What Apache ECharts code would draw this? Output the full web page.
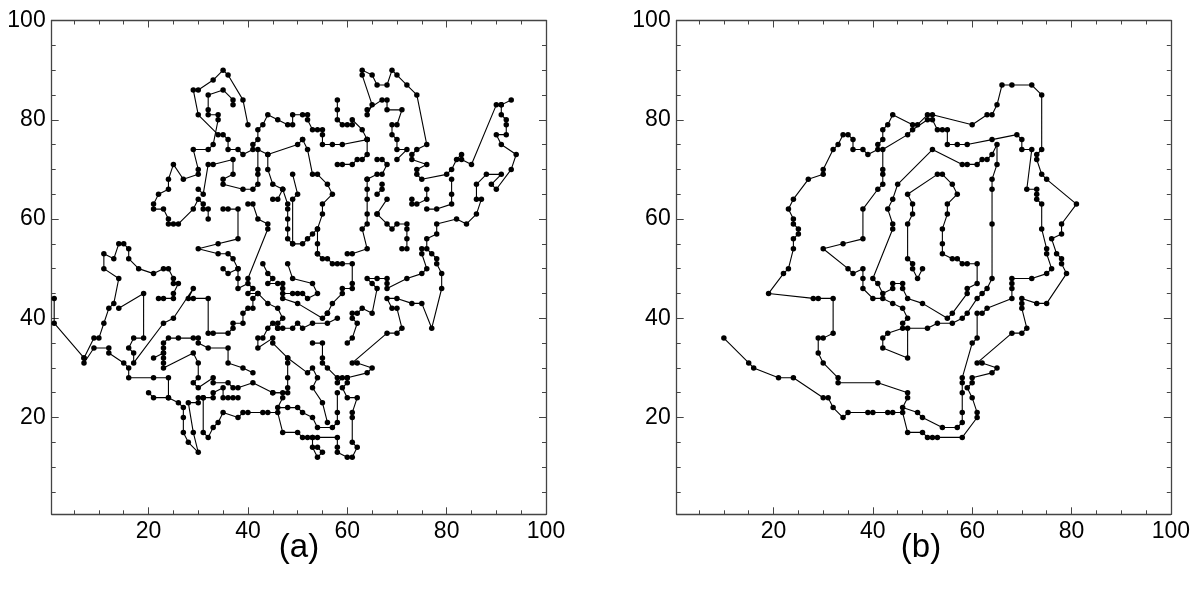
<!DOCTYPE html>
<html>
<head>
<meta charset="utf-8">
<script src="https://cdn.jsdelivr.net/npm/echarts@6/dist/echarts.min.js"></script>
<style>
html,body{margin:0;padding:0;background:#fff;}
#c{width:1193px;height:589px;}
</style>
</head>
<body>
<div id="c"></div>
<script>
// ---- tick values ----
var minorTicks = [5,10,15,20,25,30,35,40,45,50,55,60,65,70,75,80,85,90,95,100];
var majorTicks = [20,40,60,80,100];
var panelLabels = ['(a)', '(b)'];

// ---- panel (a): strands of the tour ----
var a01 = [[1,44],[1,39],[7,32],[7,31],[9,34],[12,34],[12,33],[15,31],[16,30],[16,28],[21,28],[24,28],[24,24],[21,24],[20,25]];
var a02 = [[7,32],[9,36],[10,36],[11,39],[12,42],[13,43],[14,48],[11,50],[11,53],[13,52],[14,55],[15,55],[16,54],[16,52],[18,50],[21,49],[23,50],[24,50],[25,48],[25,47],[26,47],[25,45],[25,44],[23,44],[22,44]];
var a03 = [[14,42],[19,45],[19,36],[17,36],[16,34],[17,33],[17,31],[23,39],[25,40],[29,46],[28,44],[29,44],[32,44],[32,37],[33,37],[36,37],[37,38],[37,39],[39,39],[39,41],[40,42],[41,42],[41,44],[42,45],[44,43],[46,42],[47,40],[46,39],[46,38],[47,38],[49,38],[50,39],[51,38],[53,39],[56,39],[58,40]];
var a04 = [[21,32],[23,33],[23,34],[23,35],[24,36],[26,36],[29,36],[30,36],[30,35],[32,34],[36,34],[36,31],[39,30],[41,29]];
var a05 = [[23,33],[23,32],[23,31],[23,30],[29,33],[30,31],[30,28],[29,27],[30,26],[33,28],[33,27],[36,27],[37,26],[38,26],[41,27],[45,25],[47,25],[47,24],[46,22],[48,22],[50,22],[51,21],[53,20],[54,18],[57,18],[58,19],[58,21],[58,25]];
var a06 = [[24,24],[26,23],[27,22],[27,20],[27,17],[28,15],[30,13],[29,17],[28,23],[30,23],[30,24],[31,24],[33,24],[33,25],[35,26],[35,24],[36,24],[37,24],[38,24]];
var a07 = [[31,24],[31,17],[32,16],[33,18],[34,19],[35,21],[38,20],[39,21],[40,21],[43,21],[44,21],[46,21],[47,17],[50,17],[51,16],[52,16],[53,16],[54,16],[58,16],[58,14],[58,13],[60,12],[61,12],[62,14],[61,15],[61,20],[61,21],[62,24],[60,24],[59,26],[60,27],[60,28],[64,29],[65,30],[62,31],[61,31],[68,37],[70,37],[71,38],[70,42],[69,42],[68,44],[70,44],[73,43],[75,43],[77,38],[79,46],[79,49],[78,51],[78,52],[77,53],[76,54],[76,56],[78,57],[78,59],[82,60],[84,59],[86,61],[87,64],[86,64],[86,67],[88,69],[91,69],[89,67],[90,66],[93,70],[94,73],[91,75],[90,77],[92,77],[92,79],[92,80],[91,81],[91,83],[93,84]];
var a08 = [[53,16],[53,14],[54,12],[55,13],[54,14]];
var a10 = [[48,32],[52,29],[53,30],[54,28],[53,26],[55,23],[56,19]];
var a11 = [[42,36],[42,34],[45,36],[45,35],[48,32],[48,31],[48,28],[48,26],[48,25],[45,25]];
var a12 = [[43,36],[44,38],[45,39],[46,38]];
var a13 = [[35,50],[36,49],[38,50],[38,48],[38,46],[40,47],[41,46],[40,45],[42,45]];
var a14 = [[43,51],[44,49],[45,48],[44,47],[46,47],[47,47],[47,46],[47,45],[49,45],[50,45],[51,45],[52,44],[54,45],[53,47],[49,48],[48,51]];
var a15 = [[53,35],[55,35],[55,32],[55,31],[56,30],[58,28],[58,27],[59,28],[60,28]];
var a16 = [[60,35],[61,36],[62,39],[61,40],[61,41],[62,41],[63,42],[65,41],[66,46],[65,47],[64,48],[66,48],[68,48],[68,47],[68,46],[72,48],[75,49],[76,50],[75,53],[75,54]];
var a17 = [[56,41],[57,43],[59,45],[59,46],[61,46],[61,47],[61,51],[59,51],[58,51],[57,51],[56,52],[55,52],[54,53]];
var a18 = [[47,44],[50,43],[55,40],[56,41]];
var a19 = [[40,79],[39,84],[36,89],[35,90],[33,88],[30,86],[29,86],[30,81],[34,77],[35,77],[36,76],[36,74],[38,74],[39,73],[41,74],[41,75],[42,76],[42,78],[43,79],[44,81],[46,80],[48,79],[49,79],[49,81],[51,81],[52,81],[52,80],[53,78],[54,78],[55,78],[55,77],[55,75],[57,75],[59,75],[64,76]];
var a20 = [[37,83],[37,84],[35,86],[32,85],[32,82],[32,81],[34,81],[34,80],[33,75],[32,74],[29,74],[30,70],[30,69],[27,68],[25,71],[24,68],[24,66],[22,65],[21,63],[21,62],[23,62],[24,60],[24,59],[25,59],[26,59],[29,62],[30,64],[31,63],[31,62],[32,62],[32,60]];
var a21 = [[30,66],[31,65],[32,71],[33,71],[37,72],[37,69],[35,68],[35,67],[39,66],[41,66],[42,67],[42,69],[42,70],[42,74],[44,73],[44,70],[45,67],[47,66],[48,63],[48,62],[48,60],[48,58],[48,56],[49,55]];
var a22 = [[35,62],[36,62],[38,62],[38,56],[34,55],[30,54],[34,53],[36,53],[37,52],[38,50]];
var a23 = [[40,63],[41,63],[42,60],[44,59],[44,58],[40,48]];
var a24 = [[45,64],[46,64],[47,66]];
var a25 = [[58,84],[58,82],[58,80],[59,79],[60,79],[61,79],[61,80],[63,78],[64,76]];
var a26 = [[64,81],[65,83],[63,89],[63,90],[65,89],[66,87],[68,87],[69,90],[70,89],[72,87],[74,85],[76,75],[74,74],[73,73],[73,72],[76,71],[74,70],[74,69],[75,68],[80,69],[81,70],[82,72],[83,73],[83,72],[85,71],[90,83],[91,83]];
var a27 = [[64,82],[67,84],[68,84],[68,82],[71,82],[70,79],[69,79],[69,77],[70,76],[70,74],[72,74],[70,72]];
var a28 = [[51,76],[52,74],[53,69],[54,69],[56,67],[57,65],[55,63],[55,61],[54,58],[54,55],[54,53]];
var a29 = [[64,76],[64,73],[63,72],[62,72],[61,71],[59,71],[58,71]];
var a30 = [[64,68],[66,69],[67,69],[68,71],[67,72],[66,72]];
var a31 = [[64,68],[64,66],[64,64],[64,61],[64,59],[63,58],[64,54],[61,53],[60,53]];
var a32 = [[66,65],[67,66],[67,67]];
var a33 = [[66,61],[68,59],[69,58],[70,59],[72,59],[72,58],[72,56],[72,54],[71,54]];
var a34 = [[68,64],[66,61]];
var a35 = [[73,64],[73,63],[74,63],[76,64],[76,66]];
var a36 = [[76,62],[78,62],[81,63],[81,65],[81,68]];
var a37 = [[49,69],[50,65],[49,64],[49,55],[51,55],[52,56],[53,57],[54,58]];
var a38 = [[44,73],[50,75],[51,76]];

// ---- panel (b): one open tour ----
var pathB = [[10,36],[15,31],[16,30],[21,28],[24,28],[30,24],[31,24],[32,22],[34,20],[35,21],[39,21],[40,21],[43,21],[44,21],[46,21],
[47,17],[50,17],[51,16],[52,16],[53,16],[58,16],
[61,20],[61,21],[60,24],[59,26],[60,27],[60,28],[64,29],[65,30],[62,31],[61,31],[68,37],[70,37],[71,38],[70,42],[70,43],[70,44],[73,43],[75,43],[79,49],[78,51],[78,52],[77,53],[76,56],[78,57],[78,59],[81,63],[75,68],[74,69],[73,72],[73,73],[74,74],[74,85],[72,87],[68,87],[66,87],[65,83],[64,81],[63,81],[60,79],[52,81],[51,81],[49,79],[48,79],[44,81],[43,79],[42,78],[42,76],[41,75],[41,74],[39,73],[38,74],[36,74],[36,76],[35,77],[34,77],[33,75],[32,74],[30,70],[30,69],[27,68],[24,64],[23,62],[24,60],[24,59],[25,58],[25,57],[24,56],[24,54],[23,50],[22,49],[19,45],[28,44],[29,44],[32,44],[32,37],[30,36],[29,36],[29,33],[30,31],[33,28],[33,27],[41,27],[47,25],[47,24],[46,22],[49,21],[50,20],[54,18],[57,18],[58,19],[58,21],[58,25],[58,27],[58,28],[60,35],[61,36],[61,41],[62,41],[63,42],[68,44],[68,46],[68,47],[68,48],[72,48],[75,49],[76,50],[75,53],[75,54],[74,58],[74,63],[73,64],[73,65],[73,66],[71,66],[72,74],[70,74],[70,76],[69,77],[64,76],[59,75],[57,75],[55,75],[55,78],[54,78],[53,78],[52,80],[51,80],[48,78],[47,77],[42,74],[42,70],[42,69],[42,67],[41,66],[38,62],[38,56],[34,55],[30,54],[35,50],[36,49],[38,50],[38,48],[38,46],[40,44],[42,44],[44,43],[46,42],[47,40],[46,39],[46,38],[43,37],[42,36],[42,34],[47,32],[47,38],[51,38],[53,39],[56,39],[58,40],[59,41],[61,44],[62,45],[63,46],[64,48],[64,59],[64,66],[64,68],[65,71],[65,75],[64,73],[63,72],[62,72],[61,71],[59,71],[58,71],[52,74],[45,67],[44,64],[43,62],[44,59],[44,58],[40,48],[41,47],[42,45],[44,46],[44,47],[46,47],[46,46],[47,44],[50,43],[55,40],[56,41],[59,45],[59,46],[61,47],[61,51],[59,51],[58,51],[57,52],[56,52],[54,53],[54,55],[54,58],[55,61],[55,63],[57,65],[56,67],[54,69],[53,69],[47,65],[48,63],[48,61],[47,59],[47,52],[48,51],[48,50],[49,48],[50,50]];

var strandsA = [a01,a02,a03,a04,a05,a06,a07,a08,a10,a11,a12,a13,a14,a15,a16,a17,a18,a19,a20,a21,a22,a23,a24,a25,a26,a27,a28,a29,a30,a31,a32,a33,a34,a35,a36,a37,a38];

// ---- build chart ----
var FONT = 'Liberation Sans, Arial, sans-serif';
var AX = '#444';
var grids = [
  {left: 51.7, top: 20.5, width: 494.3, height: 493.8},
  {left: 676.7, top: 20.5, width: 494.3, height: 493.8}
];

function xAxes(g) {
  var base = {gridIndex: g, type: 'value', min: 0.5, max: 100, splitLine: {show: false}};
  return [
    Object.assign({}, base, {position: 'bottom', axisLine: {show: true, lineStyle: {color: AX, width: 1.3}},
      axisTick: {show: true, inside: true, length: 4, customValues: minorTicks, lineStyle: {color: AX, width: 1}},
      axisLabel: {show: false}}),
    Object.assign({}, base, {position: 'bottom', axisLine: {show: false},
      axisTick: {show: true, inside: true, length: 7, customValues: majorTicks, lineStyle: {color: AX, width: 1}},
      axisLabel: {show: true, customValues: majorTicks, margin: 6, fontSize: 23, color: '#000', fontFamily: FONT}}),
    Object.assign({}, base, {position: 'top', axisLine: {show: true, lineStyle: {color: AX, width: 1.3}},
      axisTick: {show: true, inside: true, length: 4, customValues: minorTicks, lineStyle: {color: AX, width: 1}},
      axisLabel: {show: false}}),
    Object.assign({}, base, {position: 'top', axisLine: {show: false},
      axisTick: {show: true, inside: true, length: 7, customValues: majorTicks, lineStyle: {color: AX, width: 1}},
      axisLabel: {show: false}})
  ];
}
function yAxes(g) {
  var base = {gridIndex: g, type: 'value', min: 0.5, max: 100, splitLine: {show: false}};
  return [
    Object.assign({}, base, {position: 'left', axisLine: {show: true, lineStyle: {color: AX, width: 1.3}},
      axisTick: {show: true, inside: true, length: 4, customValues: minorTicks, lineStyle: {color: AX, width: 1}},
      axisLabel: {show: false}}),
    Object.assign({}, base, {position: 'left', axisLine: {show: false},
      axisTick: {show: true, inside: true, length: 7, customValues: majorTicks, lineStyle: {color: AX, width: 1}},
      axisLabel: {show: true, customValues: majorTicks, margin: 6, fontSize: 23, color: '#000', fontFamily: FONT}}),
    Object.assign({}, base, {position: 'right', axisLine: {show: true, lineStyle: {color: AX, width: 1.3}},
      axisTick: {show: true, inside: true, length: 4, customValues: minorTicks, lineStyle: {color: AX, width: 1}},
      axisLabel: {show: false}}),
    Object.assign({}, base, {position: 'right', axisLine: {show: false},
      axisTick: {show: true, inside: true, length: 7, customValues: majorTicks, lineStyle: {color: AX, width: 1}},
      axisLabel: {show: false}})
  ];
}

function tourSeries(data, axisIdx) {
  return {
    type: 'line', xAxisIndex: axisIdx, yAxisIndex: axisIdx, data: data,
    symbol: 'circle', symbolSize: 5.5, showSymbol: true, clip: false,
    itemStyle: {color: '#000'}, lineStyle: {color: '#000', width: 1.1},
    silent: true, animation: false, z: 3
  };
}

var series = strandsA.map(function (s) { return tourSeries(s, 0); });
series.push(tourSeries(pathB, 4));

var chart = echarts.init(document.getElementById('c'), null, {renderer: 'canvas'});
chart.setOption({
  animation: false,
  backgroundColor: '#fff',
  grid: grids,
  xAxis: xAxes(0).concat(xAxes(1)),
  yAxis: yAxes(0).concat(yAxes(1)),
  series: series,
  graphic: [
    {type: 'text', x: 299, y: 548, style: {text: panelLabels[0], fontSize: 33, fontFamily: FONT, fill: '#000', align: 'center', verticalAlign: 'middle'}},
    {type: 'text', x: 921, y: 548, style: {text: panelLabels[1], fontSize: 33, fontFamily: FONT, fill: '#000', align: 'center', verticalAlign: 'middle'}}
  ]
});
</script>
</body>
</html>
